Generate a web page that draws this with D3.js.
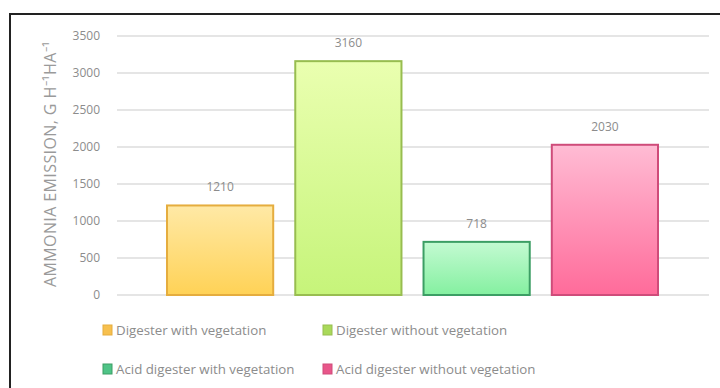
<!DOCTYPE html>
<html><head><meta charset="utf-8">
<script src="https://cdn.jsdelivr.net/npm/d3@7"></script>
<style>html,body{margin:0;padding:0;background:#fff;}svg{display:block;}</style>
</head><body>
<svg id="c" width="720" height="388"></svg>
<script>
const categories = ["Digester with vegetation","Digester without vegetation","Acid digester with vegetation","Acid digester without vegetation"];
const values = [1210, 3160, 718, 2030];
const yTicks = [0,500,1000,1500,2000,2500,3000,3500];
const yTitle = "AMMONIA EMISSION, G H\u207B\u00B9HA\u207B\u00B9";
const topColors = ["#ffe9a6","#eaffb0","#c4fad2","#ffbcd4"];
const botColors = ["#ffd256","#c6f47a","#84f0a0","#ff6b9a"];
const strokes = ["#e5ad3e","#98bd50","#3c9e64","#cf4c7a"];
const legendFill = ["#f7c04e","#a9d95a","#4fc487","#e8568a"];

const svg = d3.select("#c");
svg.append("rect").attr("x",0).attr("y",0).attr("width",720).attr("height",388).attr("fill","#fff");
svg.append("path").attr("d","M10,388 L10,14 L720,14").attr("fill","none").attr("stroke","#222").attr("stroke-width",2);

const y = d3.scaleLinear().domain([0,3500]).range([295,36]);
const x = d3.scaleBand().domain(categories).range([167,658]).paddingInner(0.172).paddingOuter(0);

const defs = svg.append("defs");
categories.forEach((c,i)=>{
  const g = defs.append("linearGradient").attr("id","g"+i).attr("x1",0).attr("y1",0).attr("x2",0).attr("y2",1);
  g.append("stop").attr("offset","0%").attr("stop-color",topColors[i]);
  g.append("stop").attr("offset","100%").attr("stop-color",botColors[i]);
});

svg.append("g").selectAll("line").data(yTicks).join("line")
  .attr("x1",117).attr("x2",709).attr("y1",d=>y(d)).attr("y2",d=>y(d))
  .attr("stroke","#dcdcdc").attr("stroke-width",1.5);

const yAxis = d3.axisLeft(y).tickValues(yTicks).tickFormat(d3.format("d")).tickSize(0).tickPadding(0);
const ga = svg.append("g").attr("transform","translate(100,0)").call(yAxis);
ga.select(".domain").remove();
ga.selectAll("text").attr("fill","#8c8c8c").attr("font-family","Open Sans, sans-serif").attr("font-size",12);

svg.append("text").attr("transform","translate(56,164) rotate(-90)").attr("text-anchor","middle")
  .attr("fill","#9a9a9a").attr("font-family","Open Sans, sans-serif").attr("font-size",16)
  .attr("letter-spacing",0.4).text(yTitle);

svg.append("g").selectAll("rect").data(values).join("rect")
  .attr("x",(d,i)=>x(categories[i])).attr("width",x.bandwidth())
  .attr("y",d=>y(d)).attr("height",d=>y(0)-y(d))
  .attr("fill",(d,i)=>"url(#g"+i+")").attr("stroke",(d,i)=>strokes[i]).attr("stroke-width",2);

svg.append("g").selectAll("text").data(values).join("text")
  .attr("x",(d,i)=>x(categories[i])+x.bandwidth()/2).attr("y",d=>y(d)-14)
  .attr("text-anchor","middle").attr("fill","#8c8c8c").attr("font-family","Open Sans, sans-serif").attr("font-size",12)
  .text(d=>d);

const lx = [103, 323], ly = [330, 369];
const lg = svg.append("g").selectAll("g").data(categories).join("g")
  .attr("transform",(d,i)=>`translate(${lx[i%2]},${ly[Math.floor(i/2)]})`);
lg.append("rect").attr("x",0).attr("y",-5).attr("width",9).attr("height",10)
  .attr("fill",(d,i)=>legendFill[i]).attr("stroke",(d,i)=>strokes[i]).attr("stroke-width",1);
lg.append("text").attr("x",13).attr("y",0).attr("dy","0.35em").attr("fill","#8c8c8c")
  .attr("font-family","Open Sans, sans-serif").attr("font-size",13.3).text(d=>d);
</script>
</body></html>
